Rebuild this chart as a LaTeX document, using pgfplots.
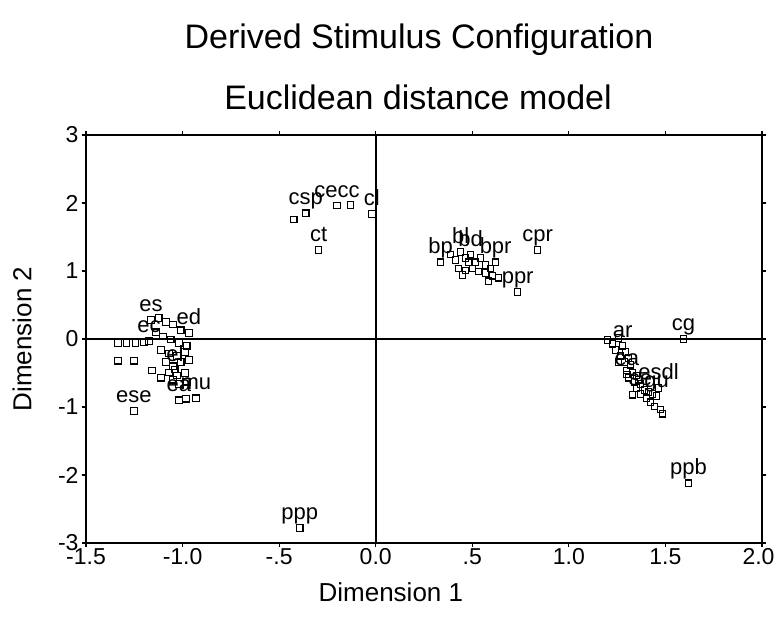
\documentclass[border=0pt]{standalone}
\usepackage{pgfplots}
\pgfplotsset{compat=1.18}
\usepackage{fontspec}
\setmainfont{Liberation Sans}
\begin{document}
\begin{tikzpicture}[x=1pt,y=1pt]
\path[use as bounding box] (-86,-91) rectangle (690,543);
\node[font=\fontsize{34}{36}\selectfont] at (333,503) {Derived Stimulus Configuration};
\node[font=\fontsize{34}{36}\selectfont] at (332,446) {Euclidean distance model};
\begin{axis}[
  at={(0,0)}, anchor=south west,
  scale only axis, width=676pt, height=408pt,
  xmin=-1.5, xmax=2, ymin=-3, ymax=3,
  xtick={-1.5,-1,-0.5,0,0.5,1,1.5,2},
  xticklabels={-1.5,-1.0,-.5,0.0,.5,1.0,1.5,2.0\kern7pt},
  ytick={-3,-2,-1,0,1,2,3},
  yticklabels={-3,-2,-1,0,1,2,3},
  tick align=outside, major tick length=4pt,
  tick style={black, line width=1.2pt},
  axis line style={line width=1.6pt},
  ticklabel style={font=\fontsize{23}{25}\selectfont},
  xticklabel style={yshift=2pt},
  xlabel={Dimension 1}, ylabel={Dimension 2},
  every axis x label/.style={at={(axis description cs:0.451,-0.120)}, anchor=center, font=\fontsize{26}{28}\selectfont},
  every axis y label/.style={at={(axis description cs:-0.0947,0.5)}, anchor=center, rotate=90, font=\fontsize{26}{28}\selectfont},
  clip=false,
  mark size=3.2pt,
  nodes near coords style={font=\fontsize{22}{24}\selectfont, anchor=south, yshift=8pt, inner sep=0pt, text depth=0pt, black},
]
% reference lines
\addplot[black, line width=1.6pt] coordinates {(0,-3) (0,3)};
\addplot[black, line width=1.6pt] coordinates {(-1.5,0) (2,0)};
% unlabeled points
\addplot[only marks, mark=square, mark options={line width=1.1pt, black}] table {
x y
-1.335 -0.06
-1.290 -0.06
-1.245 -0.06
-1.200 -0.05
-1.123 0.31
-1.086 0.25
-1.050 0.21
-1.009 0.13
-1.138 0.10
-1.102 0.04
-1.061 -0.01
-1.019 -0.06
-0.978 -0.10
-1.112 -0.16
-1.071 -0.21
-1.029 -0.25
-0.988 -0.19
-1.086 -0.34
-1.050 -0.40
-1.009 -0.34
-0.967 -0.31
-1.071 -0.49
-1.029 -0.54
-0.988 -0.50
-1.019 -0.66
-0.978 -0.63
-1.050 -0.60
-1.112 -0.57
-1.159 -0.46
-1.252 -0.32
-1.335 -0.32
-0.983 -0.88
-0.424 1.76
-0.130 1.97
0.388 1.24
0.414 1.16
0.466 1.19
0.517 1.13
0.543 1.19
0.569 1.09
0.429 1.04
0.466 1.01
0.502 1.04
0.533 0.99
0.569 0.97
0.605 0.93
0.636 0.90
0.585 0.85
0.450 0.94
0.481 1.13
0.595 1.04
1.200 -0.015
1.226 -0.07
1.257 0.015
1.242 -0.16
1.293 -0.19
1.267 -0.25
1.309 -0.28
1.288 -0.34
1.319 -0.38
1.257 -0.34
1.298 -0.46
1.330 -0.49
1.350 -0.54
1.309 -0.57
1.340 -0.63
1.371 -0.66
1.350 -0.72
1.392 -0.75
1.412 -0.78
1.433 -0.81
1.402 -0.87
1.423 -0.93
1.443 -0.99
1.474 -1.04
1.485 -1.10
1.361 -0.60
1.330 -0.82
};
% labeled points
\addplot[only marks, mark=square, mark options={line width=1.1pt, black},
  nodes near coords, point meta=explicit symbolic] table[meta=l] {
x y l
-0.393 -2.78 ppp
1.619 -2.12 ppb
1.593 0.00 cg
0.838 1.31 cpr
0.735 0.69 ppr
-0.295 1.31 ct
-0.362 1.85 csp
-0.200 1.96 cecc
-0.020 1.84 cl
-1.252 -1.06 ese
-0.931 -0.87 mu
-1.019 -0.90 ea
-1.164 0.28 es
-0.967 0.09 ed
-1.174 -0.03 ec
-1.040 -0.45 el
0.336 1.13 bp
0.440 1.28 bl
0.491 1.24 bd
0.621 1.13 bpr
1.278 -0.10 ar
1.464 -0.72 esdl
1.371 -0.81 se
1.454 -0.84 gu
1.300 -0.52 ea
};
\end{axis}
\end{tikzpicture}
\end{document}
